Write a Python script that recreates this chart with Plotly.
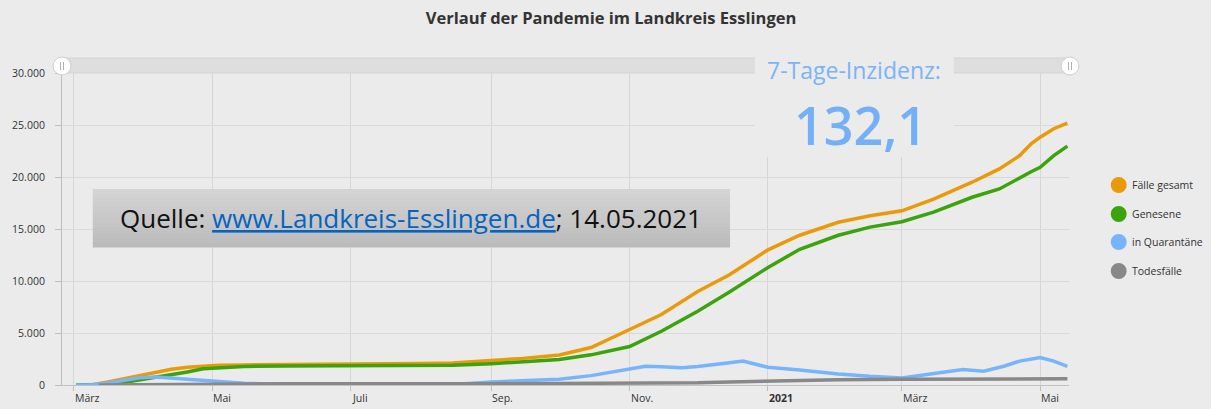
import plotly.graph_objects as go

# ---------------- data ----------------
cases_dates = ["2020-03-02", "2020-03-09", "2020-03-16", "2020-03-23", "2020-03-30", "2020-04-06",
               "2020-04-13", "2020-04-20", "2020-04-27", "2020-05-04", "2020-05-15", "2020-06-01",
               "2020-06-15", "2020-07-01", "2020-07-15", "2020-08-01", "2020-08-15", "2020-09-01",
               "2020-09-15", "2020-10-01", "2020-10-15", "2020-11-01", "2020-11-15", "2020-12-01",
               "2020-12-15", "2021-01-01", "2021-01-15", "2021-02-01", "2021-02-15", "2021-03-01",
               "2021-03-15", "2021-04-01", "2021-04-13", "2021-04-22", "2021-04-27", "2021-05-01",
               "2021-05-07", "2021-05-13"]
faelle_gesamt = [0, 30, 280, 600, 950, 1250, 1510, 1710, 1840, 1900, 1930, 1940,
                 1950, 1960, 2000, 2060, 2120, 2370, 2560, 2880, 3600, 5340, 6780, 9000,
                 10600, 13000, 14400, 15650, 16270, 16750, 17880, 19500, 20780, 22060, 23200, 23830,
                 24640, 25190]
genesene = [0, 0, 20, 250, 480, 750, 1000, 1250, 1570, 1680, 1790, 1820,
            1840, 1850, 1860, 1880, 1900, 2050, 2250, 2460, 2900, 3700, 5170, 7100,
            8950, 11300, 13050, 14400, 15180, 15700, 16620, 18050, 18850, 19970, 20500, 20940,
            22060, 22970]

quar_dates = ["2020-03-02", "2020-03-09", "2020-03-16", "2020-03-23", "2020-03-30", "2020-04-06",
              "2020-04-13", "2020-04-20", "2020-04-27", "2020-05-04", "2020-05-15", "2020-06-01",
              "2020-07-01", "2020-08-01", "2020-08-15", "2020-09-01", "2020-09-15", "2020-10-01",
              "2020-10-15", "2020-11-01", "2020-11-08", "2020-11-15", "2020-11-24", "2020-12-01",
              "2020-12-09", "2020-12-15", "2020-12-21", "2021-01-01", "2021-01-15", "2021-02-01",
              "2021-02-15", "2021-03-01", "2021-03-20", "2021-03-28", "2021-04-06", "2021-04-15",
              "2021-04-22", "2021-05-01", "2021-05-07", "2021-05-13"]
in_quarantaene = [0, 30, 200, 450, 700, 780, 680, 560, 400, 330, 180, 30,
                  20, 30, 60, 300, 400, 550, 900, 1480, 1800, 1750, 1650, 1780,
                  1950, 2150, 2300, 1700, 1450, 1060, 830, 670, 1250, 1480, 1330, 1800,
                  2300, 2650, 2300, 1780]

death_dates = ["2020-03-12", "2020-04-01", "2020-04-15", "2020-05-01", "2020-06-01", "2020-09-01",
               "2020-10-15", "2020-11-15", "2020-12-01", "2020-12-15", "2021-01-01", "2021-01-15",
               "2021-02-01", "2021-03-01", "2021-04-01", "2021-05-13"]
todesfaelle = [0, 30, 80, 110, 120, 125, 130, 160, 210, 300, 380, 450,
               500, 560, 580, 600]

series_names = ["Fälle gesamt", "Genesene", "in Quarantäne", "Todesfälle"]
series_colors = ["#e99a0b", "#3ba30b", "#78b4fb", "#888888"]

month_ticks = ["2020-03-01", "2020-05-01", "2020-07-01", "2020-09-01", "2020-11-01",
               "2021-01-01", "2021-03-01", "2021-05-01"]
month_labels = ["März", "Mai", "Juli", "Sep.", "Nov.", "<b>2021</b>", "März", "Mai"]

title_text = "Verlauf der Pandemie im Landkreis Esslingen"
inzidenz_label = "7-Tage-Inzidenz:"
inzidenz_value = "132,1"

# ---------------- layout helpers (pixel -> paper) ----------------
W, H = 1211, 409
L, R, T, B = 56, 1069, 73, 385
def px(x):
    return (x - L) / (R - L)
def py(y):
    return (B - y) / (B - T)

BG = "#ebebeb"
FONT = "Open Sans, Lato, sans-serif"

fig = go.Figure()
xs = [cases_dates, cases_dates, quar_dates, death_dates]
ys = [faelle_gesamt, genesene, in_quarantaene, todesfaelle]
for name, color, x, y in zip(series_names, series_colors, xs, ys):
    fig.add_trace(go.Scatter(x=x, y=y, name=name, mode="lines",
                             line=dict(color=color, width=3.5), showlegend=False))

shapes = []
# scrollbar on top of the plot
shapes.append(dict(type="rect", xref="paper", yref="paper", x0=px(56), x1=px(1070),
                   y0=py(73), y1=py(58), fillcolor="#dedede", line=dict(color="#d3d3d3", width=1)))
# box behind the incidence text
shapes.append(dict(type="rect", xref="paper", yref="paper", x0=px(753), x1=px(953),
                   y0=py(157), y1=py(57), fillcolor=BG, line=dict(width=0), layer="above"))
# scrollbar handles
for cx in (56, 1070):
    shapes.append(dict(type="circle", xref="paper", yref="paper", x0=px(cx - 9), x1=px(cx + 9),
                       y0=py(75), y1=py(57), fillcolor="white", line=dict(color="#cfcfcf", width=1)))
    for gx in (cx - 1.5, cx + 1.5):
        shapes.append(dict(type="line", xref="paper", yref="paper", x0=px(gx), x1=px(gx),
                           y0=py(70), y1=py(62), line=dict(color="#b0b0b0", width=1)))
# source box with vertical gradient
n_strips = 14
top, bot = 189, 247
c_top, c_bot = (0xd4, 0xd4, 0xd4), (0xbb, 0xbb, 0xbb)
for i in range(n_strips):
    y0 = top + (bot - top) * i / n_strips
    y1 = top + (bot - top) * (i + 1) / n_strips
    t = i / (n_strips - 1)
    c = tuple(round(a + (b - a) * t) for a, b in zip(c_top, c_bot))
    shapes.append(dict(type="rect", xref="paper", yref="paper", x0=px(87), x1=px(728),
                       y0=py(y1 + 0.5), y1=py(y0), fillcolor="rgb(%d,%d,%d)" % c,
                       line=dict(width=0), layer="above"))
# legend markers
legend_y = [185, 214, 242, 271]
for ly, color in zip(legend_y, series_colors):
    shapes.append(dict(type="circle", xref="paper", yref="paper", x0=px(1111), x1=px(1127),
                       y0=py(ly + 8), y1=py(ly - 8), fillcolor=color, line=dict(width=0)))

annotations = []
for d, lab in zip(month_ticks, month_labels):
    annotations.append(dict(x=d, xref="x", y=py(398), yref="paper", text=lab, showarrow=False,
                            xanchor="left", yanchor="middle", xshift=-1,
                            font=dict(family=FONT, size=10.5, color="#333333")))
for ly, name in zip(legend_y, series_names):
    annotations.append(dict(x=px(1130), y=py(ly), xref="paper", yref="paper", text=name,
                            showarrow=False, xanchor="left", yanchor="middle",
                            font=dict(family=FONT, size=10.5, color="#333333")))
annotations.append(dict(x=px(853), y=py(70), xref="paper", yref="paper", text=inzidenz_label,
                        showarrow=False, xanchor="center", yanchor="middle", borderpad=0,
                        font=dict(family=FONT, size=23, color="#7ab4f7")))
annotations.append(dict(x=px(859), y=py(124), xref="paper", yref="paper", text=inzidenz_value,
                        showarrow=False, xanchor="center", yanchor="middle", borderpad=0,
                        font=dict(family=FONT, size=52, color="#74b0f6", weight=600)))
annotations.append(dict(x=px(407), y=py(218), xref="paper", yref="paper",
                        text="Quelle: <span style='color:#0563c1;text-decoration:underline'>"
                             "www.Landkreis-Esslingen.de</span>; 14.05.2021",
                        showarrow=False, xanchor="center", yanchor="middle",
                        font=dict(family="Open Sans, sans-serif", size=26, color="#111111")))

fig.update_layout(
    width=W, height=H,
    margin=dict(l=L, r=W - R, t=T, b=H - B, pad=0),
    paper_bgcolor=BG, plot_bgcolor=BG,
    separators=",.",
    title=dict(text="<b>" + title_text + "</b>", x=611 / W, xanchor="center",
               y=1 - 18 / H, yanchor="middle", yref="container",
               font=dict(family=FONT, size=16.5, color="#333333")),
    xaxis=dict(type="date", range=["2020-02-24 18:00", "2021-05-13 17:00"],
               tickvals=month_ticks, showticklabels=False, showgrid=True, gridcolor="#d6d6d6",
               ticks="outside", ticklen=5, tickcolor="#bdbdbd", showline=True,
               linecolor="#c2c2c2", zeroline=False, fixedrange=True),
    yaxis=dict(range=[0, 30000], dtick=5000, tickformat=",d", showgrid=True,
               gridcolor="#d9d9d9", ticks="outside", ticklen=6, tickcolor="#bdbdbd",
               showline=True, linecolor="#bdbdbd", zeroline=False, ticklabelstandoff=8,
               fixedrange=True,
               tickfont=dict(family=FONT, size=10.5, color="#333333")),
    shapes=shapes,
    annotations=annotations,
    showlegend=False,
)

fig.write_html("out.html", config={"displayModeBar": False},
               post_script="document.body.style.margin='0px';"
                           "document.body.style.backgroundColor='%s';" % BG)
